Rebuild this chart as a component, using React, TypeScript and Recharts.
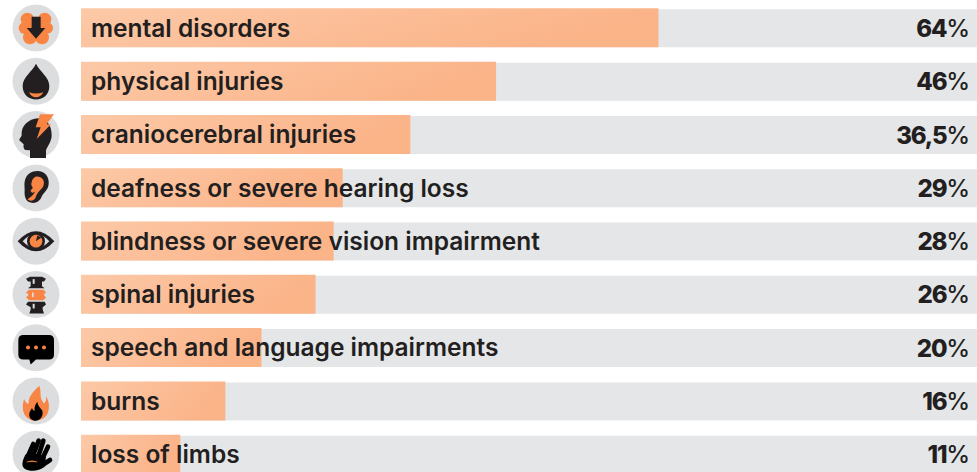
import React from "react";
import { BarChart, Bar, XAxis, YAxis, LabelList } from "recharts";

const categories = [
  "mental disorders",
  "physical injuries",
  "craniocerebral injuries",
  "deafness or severe hearing loss",
  "blindness or severe vision impairment",
  "spinal injuries",
  "speech and language impairments",
  "burns",
  "loss of limbs",
];
const values = [64, 46, 36.5, 29, 28, 26, 20, 16, 11];
const valueLabels = ["64", "46", "36,5", "29", "28", "26", "20", "16", "11"];
const AXIS_MAX = 99.3;

const rows = categories.map((name, i) => ({
  name,
  value: values[i],
  label: valueLabels[i],
  track: AXIS_MAX,
}));

const INK = "#231f20";
const ORANGE = "#f98544";
const DISC = "#dcdddf";
const FONT = "Inter, sans-serif";

const crop = (cy: number, children: React.ReactNode) => (
  <g transform={`scale(0.3333) translate(-108,${-cy})`}>{children}</g>
);

const icons: React.ReactNode[] = [
  crop(84, (
    <>
      <g fill={ORANGE}>
        <circle cx="82" cy="58" r="20" />
        <circle cx="134" cy="58" r="20" />
        <circle cx="74" cy="84" r="18" />
        <circle cx="142" cy="84" r="17" />
        <circle cx="90" cy="112" r="21" />
        <circle cx="126" cy="112" r="21" />
        <circle cx="108" cy="84" r="34" />
      </g>
      <path d="M95 50H122V84H136L108 116L80 84H95Z" fill={INK} />
    </>
  )),
  crop(243, (
    <>
      <path d="M108 190C120 215 148 230 148 258C148 282 130 298 108 298C86 298 68 282 68 258C68 230 96 215 108 190Z" fill={INK} />
      <path d="M87 276Q108 284 130 276Q122 291 108 291Q94 291 87 276Z" fill={ORANGE} />
    </>
  )),
  crop(403, (
    <>
      <path d="M90 473L90 450L76 449C70 446 70 438 71 432L58 420C58 414 64 410 65 405C62 378 85 355 115 354C140 354 155 375 155 405C155 425 142 438 138 450L138 473Z" fill={INK} />
      <path d="M120 342H162L140 372H153L110 416L122 381H107Z" fill={ORANGE} />
    </>
  )),
  crop(84, (
    <>
      <path d="M112 33C135 33 148 50 146 72C145 90 130 98 125 110C120 125 105 132 92 128C78 125 72 110 74 90C74 80 72 70 75 60C80 42 95 33 112 33Z" fill={INK} />
      <path d="M110 50C128 50 136 65 130 78C124 90 112 95 107 112C104 122 90 126 83 118C90 112 100 108 105 95C100 100 92 100 92 90C98 88 100 82 94 76C94 62 100 52 110 50Z" fill={ORANGE} />
    </>
  )),
  crop(243, (
    <>
      <path d="M53 243Q108 183 163 243Q108 303 53 243Z" fill={INK} />
      <path d="M68 243Q108 200 148 243Q108 286 68 243Z" fill={DISC} />
      <circle cx="108" cy="243" r="27" fill={INK} />
      <circle cx="108" cy="243" r="19" fill={ORANGE} />
      <path d="M108 243L124 232L112 226Z" fill={INK} />
    </>
  )),
  crop(403, (
    <>
      <path d="M90 350H126L138 356L132 364L126 364V378L134 384H84L92 378V364H84L78 356Z" fill={INK} />
      <path d="M88 389H130L138 396L131 404L138 412L130 420H88L78 412L86 404L78 396Z" fill={ORANGE} />
      <path d="M84 425H134L138 433L128 441V448L132 460H88L92 448V441L78 433Z" fill={INK} />
      <rect x="98" y="357" width="6" height="14" fill={DISC} />
      <rect x="96" y="397" width="5" height="14" fill={DISC} />
      <rect x="98" y="431" width="6" height="14" fill={DISC} />
    </>
  )),
  crop(83, (
    <>
      <path d="M70 45H147Q162 45 162 60V103Q162 118 147 118H108L92 133L88 118H70Q55 118 55 103V60Q55 45 70 45Z" fill="#000" />
      <circle cx="84" cy="82" r="6" fill={ORANGE} />
      <circle cx="108" cy="82" r="6" fill={ORANGE} />
      <circle cx="132" cy="82" r="6" fill={ORANGE} />
    </>
  )),
  crop(243, (
    <>
      <path d="M118 197C126 220 116 232 132 250C138 246 140 238 138 228C148 245 150 265 142 282C134 296 120 302 106 302C88 302 72 290 69 270C67 258 70 246 72 236C76 246 80 250 86 252C84 232 98 215 118 197Z" fill={ORANGE} />
      <path d="M112 245C114 258 120 262 126 270C132 282 124 302 108 302C94 302 86 292 88 280C90 272 94 268 96 264C98 270 100 272 104 272C102 262 106 252 112 245Z" fill="#000" />
    </>
  )),
  crop(403, (
    <>
      <g stroke="#000" strokeWidth="14" strokeLinecap="round" fill="none">
        <path d="M82 412L100 372" />
        <path d="M98 410L116 362" />
        <path d="M114 412L130 362" />
        <path d="M126 418L144 380" />
        <path d="M132 432L150 420" />
      </g>
      <path d="M76 404C68 420 62 438 74 446C90 456 116 454 134 440L138 410L90 396Z" fill="#000" />
      <path d="M80 426Q96 418 112 426Q96 424 80 426Z" fill={ORANGE} stroke={ORANGE} strokeWidth="1" />
    </>
  )),
];

const IconTick = (props: any) => {
  const { y, payload } = props;
  return (
    <g transform={`translate(36,${y})`}>
      <circle r="23.5" fill={DISC} />
      {icons[payload.index]}
    </g>
  );
};

const NameLabel = (props: any) => {
  const { viewBox, value } = props;
  return (
    <text
      x={viewBox.x + 10}
      y={viewBox.y + viewBox.height / 2}
      dy="0.36em"
      fontFamily={FONT}
      fontSize={24.5}
      fontWeight={600}
      fill={INK}
    >
      {value}
    </text>
  );
};

const ValueLabel = (props: any) => {
  const { viewBox, value } = props;
  return (
    <text
      x={viewBox.x + viewBox.width - 8}
      y={viewBox.y + viewBox.height / 2}
      dy="0.36em"
      textAnchor="end"
      fontFamily={FONT}
      fontSize={24}
      letterSpacing={-1.2}
      fill={INK}
    >
      <tspan fontWeight={800}>{value}</tspan>
      <tspan fontWeight={500}>%</tspan>
    </text>
  );
};

export default function App() {
  return (
    <div style={{ position: "absolute", left: 0, top: 0, width: 977, height: 472, overflow: "hidden" }}>
      <BarChart
        width={977}
        height={482}
        data={rows}
        layout="vertical"
        margin={{ top: 1.35, right: 0, bottom: 1, left: 0 }}
      >
        <defs>
          <linearGradient id="barFill" x1="0" y1="0" x2="1" y2="0.25">
            <stop offset="0" stopColor="#fcc9a7" />
            <stop offset="1" stopColor="#fbb388" />
          </linearGradient>
        </defs>
        <XAxis type="number" domain={[0, AXIS_MAX]} hide />
        <YAxis
          yAxisId="main"
          type="category"
          dataKey="name"
          width={81}
          interval={0}
          axisLine={false}
          tickLine={false}
          tick={<IconTick />}
        />
        <YAxis yAxisId="track" type="category" dataKey="name" hide />
        <Bar yAxisId="track" dataKey="track" fill="#e5e6e8" barSize={38} isAnimationActive={false}>
          <LabelList dataKey="label" content={<ValueLabel />} />
        </Bar>
        <Bar yAxisId="main" dataKey="value" fill="url(#barFill)" barSize={39} isAnimationActive={false}>
          <LabelList dataKey="name" content={<NameLabel />} />
        </Bar>
      </BarChart>
    </div>
  );
}
